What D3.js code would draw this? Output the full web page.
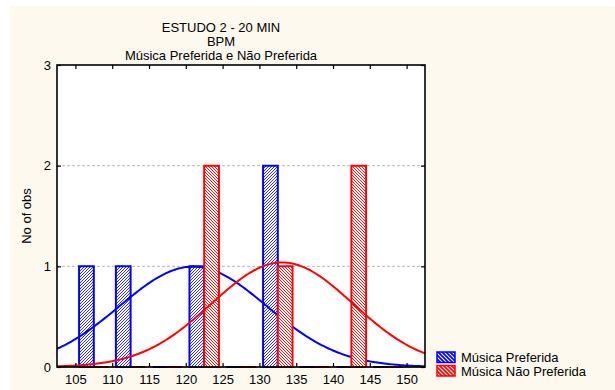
<!DOCTYPE html>
<html>
<head>
<meta charset="utf-8">
<script src="https://cdn.jsdelivr.net/npm/d3@7"></script>
<style>
  html, body { margin: 0; padding: 0; background: #ffffff; }
  svg { display: block; font-family: "Liberation Sans", Arial, sans-serif; }
</style>
</head>
<body>
<svg id="chart" width="615" height="390"></svg>
<script>
// Histogram bins (lower bound of each 5-BPM class)
const binStarts = [105, 110, 115, 120, 125, 130, 135, 140, 145];
const binWidth = 5;

// Number of observations per bin
const preferida    = [1, 1, 0, 1, 0, 2, 0, 0, 0];
const naoPreferida = [0, 0, 0, 2, 0, 1, 0, 2, 0];

// Fitted normal curves (mean, sd, n)
const fitPreferida    = { mean: 121.0, sd: 10.0, n: 5 };
const fitNaoPreferida = { mean: 133.1, sd: 9.6,  n: 5 };

const xTicks = [105, 110, 115, 120, 125, 130, 135, 140, 145, 150];
const yTicks = [0, 1, 2, 3];

const seriesNames = ["Música Preferida", "Música Não Preferida"];
const titleLines = ["ESTUDO 2 - 20 MIN", "BPM", "Música Preferida e Não Preferida"];
const yTitle = "No of obs";

const BLUE = "#0000ff", RED = "#ff0000";

const svg = d3.select("#chart");

// page background
svg.append("rect").attr("x", 10).attr("y", 6).attr("width", 605).attr("height", 384)
  .attr("fill", "#fdf9ee");

const pLeft = 57, pRight = 425, pTop = 65, pBottom = 367;
const x = d3.scaleLinear().domain([102.5, 152.5]).range([pLeft, pRight]);
const y = d3.scaleLinear().domain([0, 3]).range([pBottom, pTop]);

// hatch patterns
const defs = svg.append("defs");
function hatch(id, color, dir, bg, w, size) {
  const p = defs.append("pattern").attr("id", id)
    .attr("patternUnits", "userSpaceOnUse").attr("width", size).attr("height", size);
  p.append("rect").attr("width", size).attr("height", size).attr("fill", bg);
  const s = size;
  const d = dir === "up"
    ? `M0,${s} L${s},0 M${-s/2},${s/2} L${s/2},${-s/2} M${s/2},${s*1.5} L${s*1.5},${s/2}`
    : `M0,0 L${s},${s} M${-s/2},${s/2} L${s/2},${s*1.5} M${s/2},${-s/2} L${s*1.5},${s/2}`;
  p.append("path").attr("d", d).attr("stroke", color).attr("stroke-width", w);
}
hatch("hBlue", BLUE, "up", "#ffffff", 0.8, 3);
hatch("hRed", RED, "down", "#ffffff", 0.9, 3);
hatch("sBlue", "#ffffff", "down", BLUE, 1.1, 4);
hatch("sRed", "#ffffff", "down", RED, 1.1, 4);

// plot area
svg.append("rect").attr("x", pLeft).attr("y", pTop)
  .attr("width", pRight - pLeft).attr("height", pBottom - pTop).attr("fill", "#ffffff");

// gridlines
svg.append("g").selectAll("line").data(yTicks.filter(t => t > 0 && t < 3)).join("line")
  .attr("x1", pLeft).attr("x2", pRight)
  .attr("y1", d => y(d)).attr("y2", d => y(d))
  .attr("stroke", "#b8b8b8").attr("stroke-dasharray", "3,2").attr("stroke-width", 1);

const plot = svg.append("g");

function drawBars(counts, offset, color, pat) {
  const data = binStarts.map((b, i) => ({ b, c: counts[i] }));
  plot.append("g").selectAll("path").data(data).join("path")
    .attr("d", d => {
      const x0 = x(d.b + offset), x1 = x(d.b + offset + 2);
      const y0 = y(0), y1 = y(d.c);
      return `M${x0},${y0} V${y1} H${x1} V${y0} Z`;
    })
    .attr("fill", `url(#${pat})`)
    .attr("stroke", color).attr("stroke-width", 2);
}

function normalCurve(fit) {
  const pts = d3.range(102.5, 152.5 + 0.001, 0.25);
  return pts.map(v => {
    const z = (v - fit.mean) / fit.sd;
    return [v, fit.n * binWidth * Math.exp(-0.5 * z * z) / (fit.sd * Math.sqrt(2 * Math.PI))];
  });
}
const line = d3.line().x(d => x(d[0])).y(d => y(d[1]));

function drawCurve(fit, color) {
  plot.append("path").datum(normalCurve(fit)).attr("d", line)
    .attr("fill", "none").attr("stroke", color).attr("stroke-width", 2);
}

// series order: blue bars, blue curve, red bars, red curve
drawBars(preferida, 0.5, BLUE, "hBlue");
drawCurve(fitPreferida, BLUE);
drawBars(naoPreferida, 2.5, RED, "hRed");
drawCurve(fitNaoPreferida, RED);

// darken the baseline a little
svg.append("line").attr("x1", pLeft).attr("x2", pRight).attr("y1", pBottom).attr("y2", pBottom)
  .attr("stroke", "#000").attr("stroke-opacity", 0.55).attr("stroke-width", 1);

// frame
svg.append("rect").attr("x", pLeft).attr("y", pTop)
  .attr("width", pRight - pLeft).attr("height", pBottom - pTop)
  .attr("fill", "none").attr("stroke", "#000").attr("stroke-width", 1.6);

// axes
function styleAxis(g) {
  g.select(".domain").remove();
  g.selectAll(".tick line").attr("stroke", "#000").attr("stroke-width", 1.2);
  g.selectAll(".tick text").attr("font-size", 13).attr("fill", "#000")
    .attr("font-family", "Liberation Sans, Arial, sans-serif");
}
svg.append("g").attr("transform", `translate(0,${pBottom})`)
  .call(d3.axisBottom(x).tickValues(xTicks).tickSizeInner(-4).tickSizeOuter(0).tickPadding(8))
  .call(styleAxis);
svg.append("g").attr("transform", `translate(0,${pTop})`)
  .call(d3.axisTop(x).tickValues(xTicks).tickSizeInner(-4).tickSizeOuter(0).tickFormat(""))
  .call(styleAxis);
svg.append("g").attr("transform", `translate(${pLeft},0)`)
  .call(d3.axisLeft(y).tickValues(yTicks).tickSizeInner(-4).tickSizeOuter(0).tickPadding(6).tickFormat(d3.format("d")))
  .call(styleAxis);
svg.append("g").attr("transform", `translate(${pRight},0)`)
  .call(d3.axisRight(y).tickValues(yTicks).tickSizeInner(-4).tickSizeOuter(0).tickFormat(""))
  .call(styleAxis);

// title
svg.append("g").selectAll("text").data(titleLines).join("text")
  .attr("x", 221).attr("y", (d, i) => 32 + i * 14)
  .attr("text-anchor", "middle").attr("font-size", 13).attr("fill", "#000")
  .text(d => d);

// y axis title
svg.append("text")
  .attr("transform", `translate(31,${(pTop + pBottom) / 2}) rotate(-90)`)
  .attr("text-anchor", "middle").attr("font-size", 13).attr("fill", "#000")
  .text(yTitle);

// legend
const legend = svg.append("g");
const swatches = [
  { name: seriesNames[0], pat: "sBlue", color: BLUE, y: 352 },
  { name: seriesNames[1], pat: "sRed", color: RED, y: 365.5 }
];
legend.selectAll("rect").data(swatches).join("rect")
  .attr("x", 437).attr("y", d => d.y).attr("width", 18).attr("height", 10.5)
  .attr("fill", d => `url(#${d.pat})`).attr("stroke", d => d.color).attr("stroke-width", 1.5);
legend.selectAll("text").data(swatches).join("text")
  .attr("x", 461).attr("y", d => d.y + 10).attr("font-size", 13).attr("fill", "#000")
  .text(d => d.name);
</script>
</body>
</html>
